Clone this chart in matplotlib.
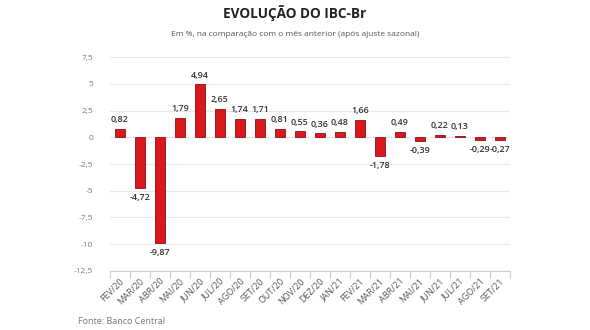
import numpy as np
import matplotlib.pyplot as plt

plt.rcParams['font.family'] = ['Open Sans', 'DejaVu Sans']

months = ["FEV/20", "MAR/20", "ABR/20", "MAI/20", "JUN/20", "JUL/20", "AGO/20", "SET/20",
          "OUT/20", "NOV/20", "DEZ/20", "JAN/21", "FEV/21", "MAR/21", "ABR/21", "MAI/21",
          "JUN/21", "JUL/21", "AGO/21", "SET/21"]
values = [0.82, -4.72, -9.87, 1.79, 4.94, 2.65, 1.74, 1.71, 0.81, 0.55, 0.36, 0.48, 1.66,
          -1.78, 0.49, -0.39, 0.22, 0.13, -0.29, -0.27]
yticks = [-12.5, -10, -7.5, -5, -2.5, 0, 2.5, 5, 7.5]

fig = plt.figure(figsize=(5.9, 3.3), dpi=100)
ax = fig.add_axes([0.186, 0.179, 0.678, 0.648])

for s in ['top', 'right', 'left']:
    ax.spines[s].set_visible(False)
ax.spines['bottom'].set_color('#cccccc')

x = np.arange(len(months))
ax.bar(x, values, width=0.48, color='#d9181e', edgecolor='#8c1014', linewidth=0.6, zorder=3)

for xi, v in zip(x, values):
    lab = ('%.2f' % v).replace('.', ',')
    if v >= 0:
        ax.text(xi, v + 0.45, lab, ha='center', va='bottom', fontsize=6.5, color='#333333', fontweight='semibold')
    else:
        ax.text(xi, v - 0.45, lab, ha='center', va='top', fontsize=6.5, color='#333333', fontweight='semibold')

ax.set_ylim(-12.5, 7.5)
ax.set_xlim(-0.5, len(months) - 0.5)
ax.set_yticks(yticks)
ax.set_yticklabels([('%g' % t).replace('.', ',') for t in yticks], fontsize=6, color='#777777')
ax.yaxis.grid(True, color='#e8e8e8', linewidth=0.8, zorder=0)
ax.tick_params(axis='y', length=0, pad=12)

ax.set_xticks(x)
ax.set_xticklabels(months, rotation=45, ha='right', rotation_mode='anchor', fontsize=6.5, color='#555555')
ax.tick_params(axis='x', which='major', length=0, pad=4)
ax.set_xticks(np.arange(-0.5, len(months)), minor=True)
ax.tick_params(axis='x', which='minor', length=5, color='#cccccc', width=0.8)

fig.text(0.5, 0.96, 'EVOLUÇÃO DO IBC-Br', ha='center', va='center', fontsize=9.8, fontweight='bold',
         color='#222222')
fig.text(0.5, 0.895, 'Em %, na comparação com o mês anterior (após ajuste sazonal)', ha='center', va='center',
         fontsize=6, color='#555555')
fig.text(0.132, 0.025, 'Fonte: Banco Central', ha='left', va='center', fontsize=6.5, color='#777777')

fig.savefig('out.png', dpi=100, facecolor='white')
